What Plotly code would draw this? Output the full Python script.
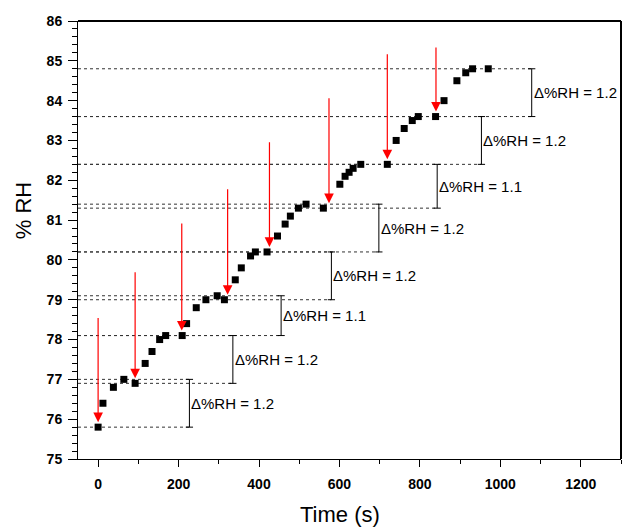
import plotly.graph_objects as go

# ---- data ----
time_s = [0, 12, 38, 64, 92, 117, 134, 153, 168, 209, 220, 244, 268, 296, 314,
          341, 356, 379, 391, 420, 446, 465, 478, 498, 517, 560, 601, 614, 624,
          634, 653, 719, 741, 761, 781, 796, 839, 860, 892, 914, 931, 970]
rh = [75.8, 76.4, 76.8, 77.0, 76.9, 77.4, 77.7, 78.0, 78.1, 78.1, 78.4, 78.8,
      79.0, 79.1, 79.0, 79.5, 79.8, 80.1, 80.2, 80.2, 80.6, 80.9, 81.1, 81.3,
      81.4, 81.3, 81.9, 82.1, 82.2, 82.3, 82.4, 82.4, 83.0, 83.3, 83.5, 83.6,
      83.6, 84.0, 84.5, 84.7, 84.8, 84.8]

# red arrows: time, arrow start (top) and target level
arrow_time = [0, 92, 208, 322, 426, 574, 719, 840]
arrow_top = [78.58, 79.73, 80.95, 81.81, 82.99, 84.1, 85.2, 85.37]
arrow_target = [75.8, 76.9, 78.1, 79.0, 80.2, 81.3, 82.4, 83.6]

# step brackets
bracket_time = [227, 335, 455, 580, 698, 843, 953, 1078]
bracket_low = [75.8, 76.9, 78.1, 79.0, 80.2, 81.3, 82.4, 83.6]
bracket_high = [77.0, 78.1, 79.1, 80.2, 81.4, 82.4, 83.6, 84.8]
bracket_label = ["Δ%RH = 1.2", "Δ%RH = 1.2", "Δ%RH = 1.1", "Δ%RH = 1.2",
                 "Δ%RH = 1.2", "Δ%RH = 1.1", "Δ%RH = 1.2", "Δ%RH = 1.2"]

x_range = [-50, 1300]
y_range = [75, 86]
x_ticks = [0, 200, 400, 600, 800, 1000, 1200]
y_ticks = list(range(75, 87))

FONT = "Liberation Sans, Arial, sans-serif"

fig = go.Figure()

shapes = []
annotations = []

# dotted level lines and brackets
for bx, lo, hi, lab in zip(bracket_time, bracket_low, bracket_high, bracket_label):
    for lvl in (lo, hi):
        shapes.append(dict(type="line", xref="x", yref="y", x0=x_range[0], x1=bx,
                           y0=lvl, y1=lvl, line=dict(color="#333333", width=1, dash="dot"),
                           layer="below"))
        shapes.append(dict(type="line", xref="x", yref="y", x0=bx - 9, x1=bx + 9,
                           y0=lvl, y1=lvl, line=dict(color="black", width=1)))
    shapes.append(dict(type="line", xref="x", yref="y", x0=bx, x1=bx, y0=lo, y1=hi,
                       line=dict(color="black", width=1)))
    annotations.append(dict(x=bx, y=(lo + hi) / 2, xref="x", yref="y", text=lab,
                            showarrow=False, xanchor="left", yanchor="middle", xshift=0,
                            font=dict(family=FONT, size=15, color="black")))

# red arrows
for t, top, tgt in zip(arrow_time, arrow_top, arrow_target):
    annotations.append(dict(x=t, y=tgt, ax=t, ay=top, xref="x", yref="y",
                            axref="x", ayref="y", text="", showarrow=True,
                            arrowhead=2, arrowsize=1.6, arrowwidth=1.2,
                            arrowcolor="#ff0000", standoff=5))

fig.add_trace(go.Scatter(x=time_s, y=rh, mode="markers",
                         marker=dict(symbol="square", size=7, color="black"),
                         showlegend=False))

# axis titles
annotations.append(dict(x=-0.101, y=0.566, xref="paper", yref="paper", text="% RH",
                        textangle=-90, showarrow=False, xanchor="center", yanchor="middle",
                        font=dict(family=FONT, size=22, color="black")))
annotations.append(dict(x=0.4816, y=-0.1256, xref="paper", yref="paper", text="Time (s)",
                        showarrow=False, xanchor="center", yanchor="middle",
                        font=dict(family=FONT, size=22, color="black")))

# top/right frame
shapes.append(dict(type="line", xref="paper", yref="paper", x0=0, x1=1, y0=1, y1=1,
                   line=dict(color="black", width=2)))
shapes.append(dict(type="line", xref="paper", yref="paper", x0=1, x1=1, y0=0, y1=1,
                   line=dict(color="black", width=2)))

fig.update_layout(
    width=623, height=527,
    margin=dict(l=78, r=2, t=21, b=68, autoexpand=False),
    paper_bgcolor="white", plot_bgcolor="white",
    shapes=shapes, annotations=annotations,
    xaxis=dict(range=x_range, tickvals=x_ticks, ticks="outside", ticklen=7,
               tickwidth=1, tickcolor="black", showgrid=False, zeroline=False,
               showline=True, linecolor="black", linewidth=1, automargin=False,
               ticklabelstandoff=5,
               tickfont=dict(family=FONT, size=14, color="black", weight="bold"),
               minor=dict(ticks="outside", ticklen=4, dtick=100, tick0=0,
                          tickcolor="black", showgrid=False)),
    yaxis=dict(range=y_range, tickvals=y_ticks, ticks="outside", ticklen=9,
               tickwidth=1, tickcolor="black", showgrid=False, zeroline=False,
               showline=True, linecolor="black", linewidth=1, automargin=False,
               ticklabelstandoff=3,
               tickfont=dict(family=FONT, size=14, color="black", weight="bold"),
               minor=dict(ticks="outside", ticklen=5, dtick=0.2, tick0=75,
                          tickcolor="black", showgrid=False)),
)

fig.write_html("out.html", config={"displayModeBar": False},
               post_script="document.body.style.margin='0';")
